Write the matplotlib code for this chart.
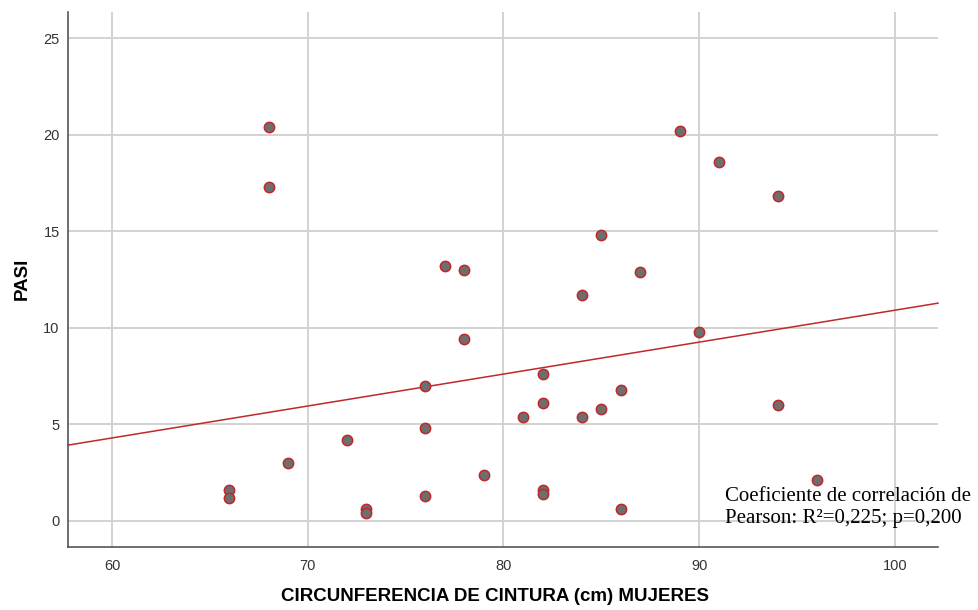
import numpy as np
import matplotlib
matplotlib.use("Agg")
import matplotlib.pyplot as plt

# cintura (cm) y PASI, mujeres
cintura = [66, 66, 68, 68, 69, 72, 73, 73, 76, 76, 76, 77, 78, 78, 79, 81,
           82, 82, 82, 82, 84, 84, 85, 85, 86, 86, 87, 89, 90, 91, 94, 94, 96]
pasi = [1.6, 1.2, 20.4, 17.3, 3.0, 4.2, 0.6, 0.4, 7.0, 4.8, 1.3, 13.2, 13.0, 9.4, 2.4, 5.4,
        7.6, 6.1, 1.6, 1.4, 11.7, 5.4, 14.8, 5.8, 6.8, 0.6, 12.9, 20.2, 9.8, 18.6, 16.8, 6.0, 2.1]

x_ticks = [60, 70, 80, 90, 100]
y_ticks = [0, 5, 10, 15, 20, 25]

plt.rcParams['font.family'] = ['Liberation Sans', 'DejaVu Sans']

fig = plt.figure(figsize=(9.79, 6.10), dpi=100)
ax = fig.add_axes([68 / 979, 1 - 547 / 610, 870 / 979, 535 / 610])

xlim = (57.75, 102.2)
ax.set_xlim(*xlim)
ax.set_ylim(-1.35, 26.35)
ax.set_xticks(x_ticks)
ax.set_yticks(y_ticks)
ax.grid(True, color='#d2d2d2', linewidth=1.4)
ax.set_axisbelow(True)
ax.tick_params(length=0, labelsize=10.5, labelcolor='#333333')
ax.tick_params(axis='x', pad=9)
ax.tick_params(axis='y', pad=6)

for s in ['top', 'right']:
    ax.spines[s].set_visible(False)
for s in ['left', 'bottom']:
    ax.spines[s].set_color('#555555')
    ax.spines[s].set_linewidth(1.2)

# recta de regresion
slope, intercept = np.polyfit(cintura, pasi, 1)
xs = np.array(xlim)
ax.plot(xs, intercept + slope * xs, color='#c0282a', linewidth=1.1, clip_on=False)

ax.scatter(cintura, pasi, s=55, facecolor='#6e6e6e', edgecolor='#c0282a',
           linewidth=1.1, zorder=3)

ax.set_xlabel('CIRCUNFERENCIA DE CINTURA (cm) MUJERES', fontsize=13.5,
              fontweight='bold')
ax.xaxis.set_label_coords(0.491, -0.077)
ax.set_ylabel('PASI', fontsize=13.5, fontweight='bold')
ax.yaxis.set_label_coords(-0.043, 0.502)

ax.text(0.755, 0.074, 'Coeficiente de correlación de\nPearson: R²=0,225; p=0,200',
        transform=ax.transAxes, family='Liberation Serif', fontsize=15,
        linespacing=1.25, va='center', ha='left', clip_on=False)

plt.savefig('out.png', dpi=100)
